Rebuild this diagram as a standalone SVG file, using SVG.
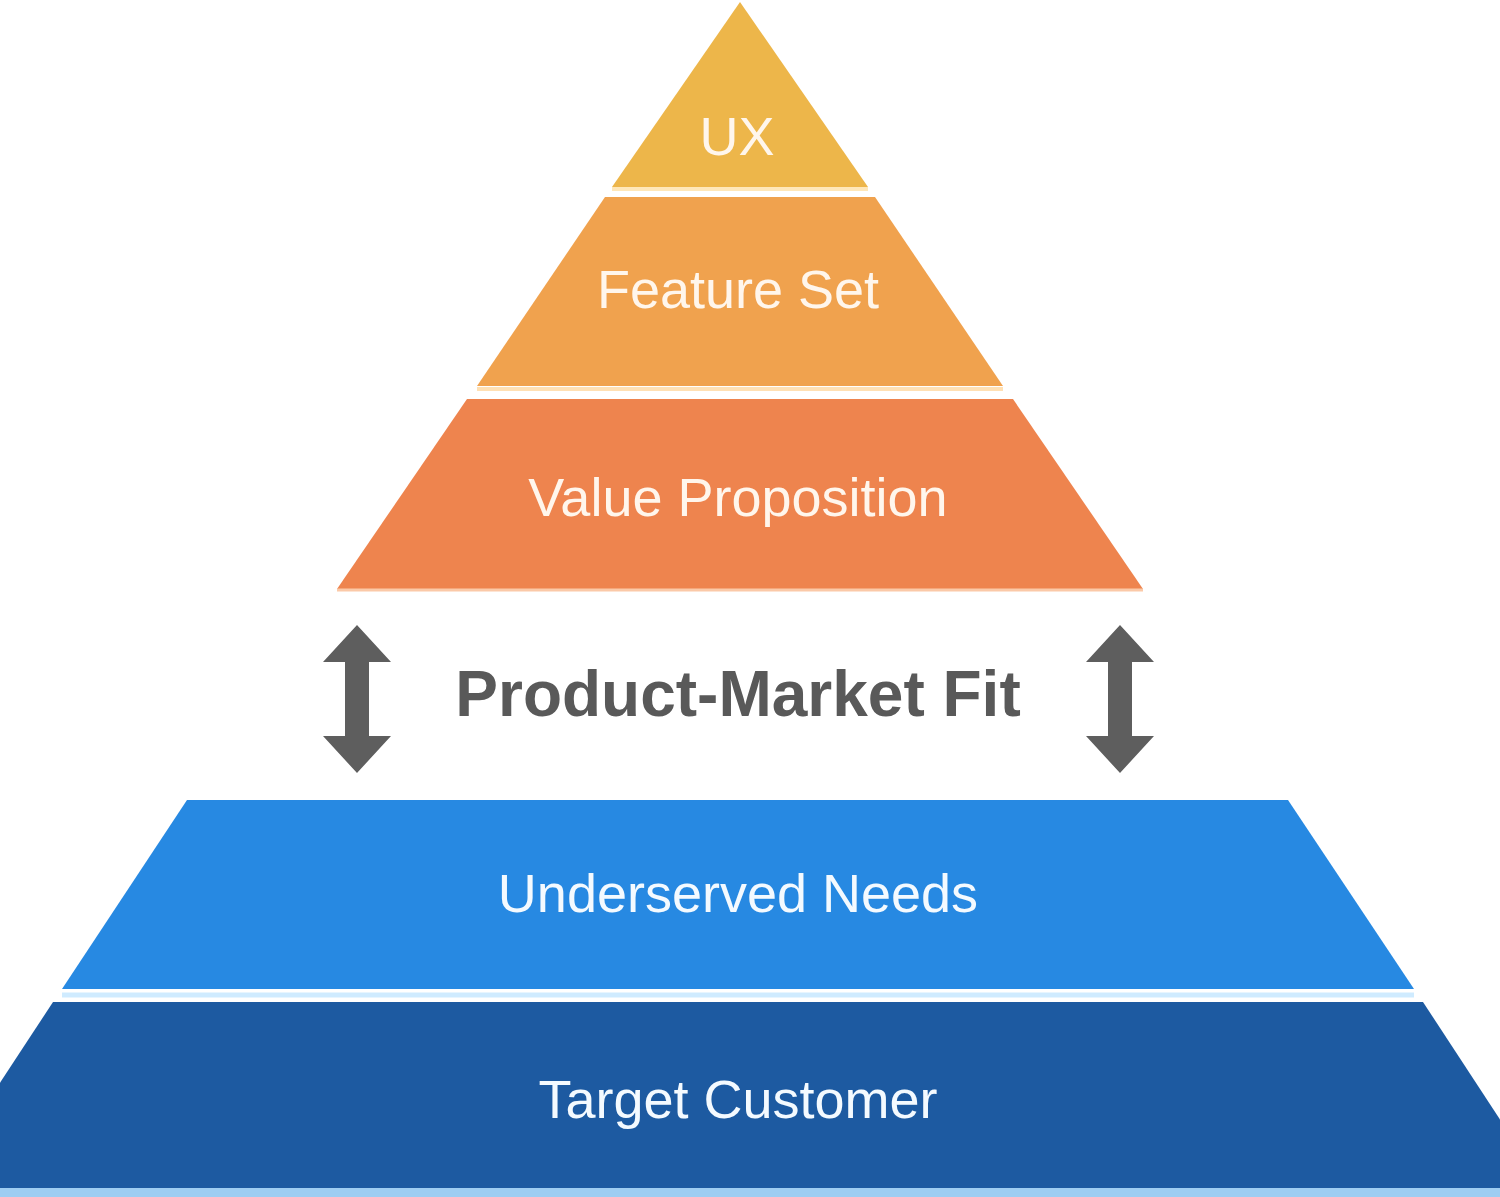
<svg xmlns="http://www.w3.org/2000/svg" width="1500" height="1197" viewBox="0 0 1500 1197">
<style>
.lbl{font-family:"Liberation Sans",Arial,sans-serif;font-size:54px;text-anchor:middle;fill:#FFF6EC}
.blue{fill:#F4FAFF}
.pmf{font-family:"Liberation Sans",Arial,sans-serif;font-size:64px;font-weight:bold;text-anchor:middle;fill:#595959}
.arrow{fill:#5E5E5E}
</style>
<rect width="1500" height="1197" fill="#FFFFFF"/>
<g id="ux">
<polygon points="740,2 868,187 612,187" fill="#EDB64A"/>
<line x1="612" y1="189" x2="868" y2="189" stroke="#FFE7B8" stroke-width="4"/>
<text class="lbl" x="737" y="155">UX</text>
</g>
<g id="feature-set">
<polygon points="605,197 875,197 1003,386 477,386" fill="#F0A24E"/>
<line x1="477" y1="389" x2="1003" y2="389" stroke="#FFE0B4" stroke-width="4"/>
<text class="lbl" x="738" y="308">Feature Set</text>
</g>
<g id="value-proposition">
<polygon points="467,399 1013,399 1143,589 337,589" fill="#EE844E"/>
<line x1="337" y1="590" x2="1143" y2="590" stroke="#FBC9A8" stroke-width="3"/>
<text class="lbl" x="738" y="516">Value Proposition</text>
</g>
<g id="product-market-fit">
<text class="pmf" x="738" y="716">Product-Market Fit</text>
</g>
<g id="connectors">
<polygon class="arrow" points="357,625 391,662 369,662 369,736 391,736 357,773 323,736 345,736 345,662 323,662"/>
<polygon class="arrow" points="1120,625 1154,662 1132,662 1132,736 1154,736 1120,773 1086,736 1108,736 1108,662 1086,662"/>
</g>
<g id="underserved-needs">
<polygon points="187,800 1288,800 1414,989 62,989" fill="#2789E2"/>
<line x1="62" y1="995" x2="1414" y2="995" stroke="#CFEBFF" stroke-width="5"/>
<text class="lbl blue" x="738" y="912">Underserved Needs</text>
</g>
<g id="target-customer">
<polygon points="53,1002 1423,1002 1545,1188 -69,1188" fill="#1D5AA1"/>
<rect x="0" y="1188" width="1500" height="9" fill="#9ECDF2"/>
<text class="lbl blue" x="738" y="1118">Target Customer</text>
</g>
</svg>
